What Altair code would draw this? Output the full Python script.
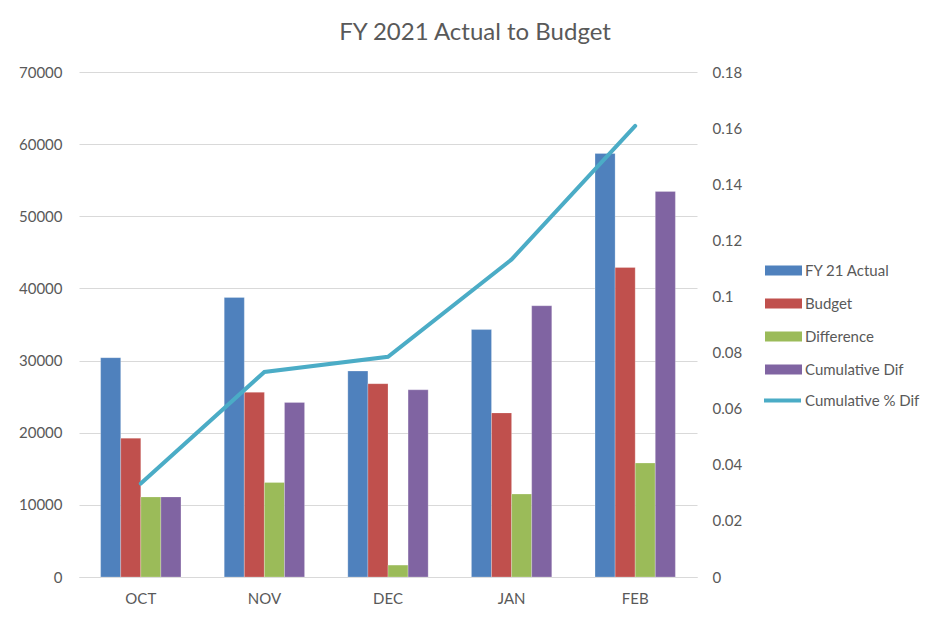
import altair as alt
import pandas as pd

months = ["OCT", "NOV", "DEC", "JAN", "FEB"]
actual = [30400, 38750, 28550, 34300, 58700]
budget = [19250, 25600, 26800, 22750, 42900]
difference = [11100, 13100, 1650, 11500, 15800]
cumulative = [11100, 24200, 25950, 37600, 53450]
cum_pct = [0.0333, 0.0731, 0.0785, 0.1132, 0.1608]

series = ["FY 21 Actual", "Budget", "Difference", "Cumulative Dif"]
colors = ["#4F81BD", "#C0504D", "#9BBB59", "#8064A2"]
line_name = "Cumulative % Dif"
line_color = "#4BACC6"

left_ticks = [0, 10000, 20000, 30000, 40000, 50000, 60000, 70000]
right_ticks = [0, 0.02, 0.04, 0.06, 0.08, 0.1, 0.12, 0.14, 0.16, 0.18]

rows = []
for s, vals in zip(series, [actual, budget, difference, cumulative]):
    for m, v in zip(months, vals):
        rows.append({"month": m, "series": s, "value": v})
bars_df = pd.DataFrame(rows)
line_df = pd.DataFrame({"month": months, "pct": cum_pct, "name": [line_name] * len(months)})

FONT = "Lato"
GREY = "#595959"

x_enc = alt.X(
    "month:N", sort=months,
    scale=alt.Scale(paddingInner=0.35, paddingOuter=0.175),
    axis=alt.Axis(title=None, labelAngle=0, ticks=False, domain=True, domainColor="#D9D9D9",
                  labelPadding=14, labelFontSize=15, labelColor=GREY, labelFont=FONT, grid=False),
)

bars = alt.Chart(bars_df).mark_bar(stroke="#ffffff", strokeWidth=0.4, strokeOpacity=0.6).encode(
    x=x_enc,
    xOffset=alt.XOffset("series:N", sort=series, scale=alt.Scale(paddingInner=0, paddingOuter=0)),
    y=alt.Y("value:Q", scale=alt.Scale(domain=[0, 70000], nice=False),
            axis=alt.Axis(title=None, values=left_ticks, format="d", orient="left",
                          domain=False, ticks=False, grid=True, gridColor="#D9D9D9",
                          labelPadding=17, labelFontSize=15, labelColor=GREY, labelFont=FONT)),
    color=alt.Color("series:N", sort=series,
                    scale=alt.Scale(domain=series, range=colors),
                    legend=alt.Legend(title=None, orient="none", legendX=686, legendY=180,
                                      symbolType="M-1,-0.27L1,-0.27L1,0.27L-1,0.27Z",
                                      symbolSize=1369, symbolStrokeWidth=0,
                                      labelFontSize=15, labelColor=GREY, labelFont=FONT,
                                      rowPadding=6, labelOffset=3, padding=0)),
)

line = alt.Chart(line_df).mark_line(strokeWidth=4, strokeCap="round").encode(
    x=alt.X("month:N", sort=months),
    y=alt.Y("pct:Q", scale=alt.Scale(domain=[0, 0.18], nice=False),
            axis=alt.Axis(title=None, values=right_ticks, format="~g", orient="right",
                          domain=False, ticks=False, grid=False,
                          labelPadding=15, labelFontSize=15, labelColor=GREY, labelFont=FONT)),
    color=alt.Color("name:N", scale=alt.Scale(domain=[line_name], range=[line_color]),
                    legend=alt.Legend(title=None, orient="none", legendX=683, legendY=308,
                                      symbolType="stroke", symbolSize=1369, symbolStrokeWidth=4,
                                      labelFontSize=15, labelColor=GREY, labelFont=FONT,
                                      labelOffset=2, padding=0)),
)

chart = alt.layer(bars, line).resolve_scale(y="independent", color="independent").properties(
    width=618, height=505,
    title=alt.TitleParams("FY 2021 Actual to Budget", fontSize=24, color=GREY, font=FONT,
                          fontWeight="normal", anchor="middle", dx=87, offset=20),
    autosize=alt.AutoSizeParams(type="none"),
    padding={"left": 71, "top": 64, "right": 225, "bottom": 30},
    background="#ffffff",
).configure_view(stroke=None)

chart.save("out.html", embed_options={"renderer": "svg", "actions": False})
